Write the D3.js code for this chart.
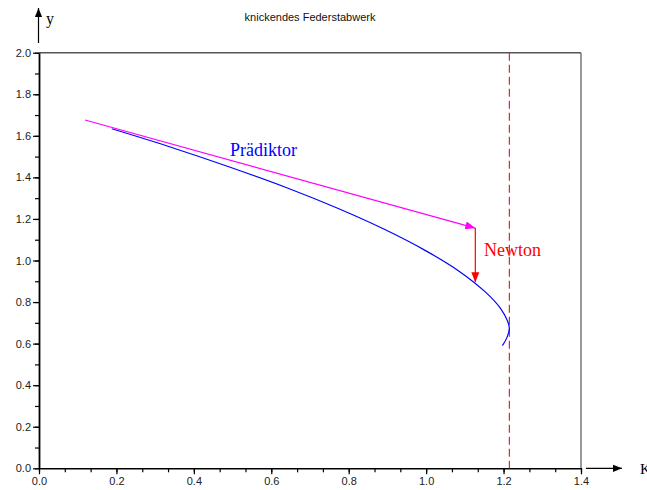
<!DOCTYPE html>
<html>
<head>
<meta charset="utf-8">
<script src="https://cdn.jsdelivr.net/npm/d3@7"></script>
<style>
  body { margin: 0; background: #fff; }
  svg { display: block; }
  .tick text { font-family: "Liberation Sans", Arial, sans-serif; font-size: 11px; fill: #222; }
</style>
</head>
<body>
<svg id="chart" width="647" height="490"></svg>
<script>
// Lösungskurve
const curveK = [0.188, 0.333, 0.492, 0.640, 0.773, 0.892, 0.996, 1.084, 1.152, 1.192, 1.210, 1.215, 1.209, 1.197];
const curveY = [1.634, 1.550, 1.450, 1.350, 1.250, 1.150, 1.050, 0.950, 0.850, 0.770, 0.710, 0.674, 0.630, 0.590];

// Prädiktor- und Newton-Schritt
const predK = [0.119, 1.127];
const predY = [1.676, 1.156];
const newtonK = [1.127, 1.127];
const newtonY = [1.156, 0.895];

// Grenzlast
const limitK = 1.215;

const xMajor = [0, 0.2, 0.4, 0.6, 0.8, 1.0, 1.2, 1.4];
const yMajor = [0, 0.2, 0.4, 0.6, 0.8, 1.0, 1.2, 1.4, 1.6, 1.8, 2.0];

const svg = d3.select("#chart");

const x = d3.scaleLinear().domain([0, 1.4]).range([39, 581]);
const y = d3.scaleLinear().domain([0, 2]).range([468.3, 52.7]);

const xMinor = d3.range(0, 22).map((i) => (i * 1.4) / 21);
const yMinor = d3.range(0, 21).map((i) => i / 10);

// Arrowheads
const defs = svg.append("defs");
function marker(id, color, w, h) {
  defs
    .append("marker")
    .attr("id", id)
    .attr("viewBox", "0 -5 10 10")
    .attr("refX", 10)
    .attr("refY", 0)
    .attr("markerUnits", "userSpaceOnUse")
    .attr("markerWidth", w)
    .attr("markerHeight", h)
    .attr("orient", "auto")
    .append("path")
    .attr("d", "M0,-4L10,0L0,4Z")
    .attr("fill", color);
}
marker("arr-black", "#000", 9, 9);
marker("arr-magenta", "#ff00ff", 10, 10);
marker("arr-red", "#ff0000", 10, 10);

// Frame (top and right)
svg.append("line")
  .attr("x1", x(0)).attr("x2", x(1.4))
  .attr("y1", y(2)).attr("y2", y(2))
  .attr("stroke", "#555").attr("stroke-width", 1.5);
svg.append("line")
  .attr("x1", x(1.4)).attr("x2", x(1.4))
  .attr("y1", y(2)).attr("y2", y(0))
  .attr("stroke", "#777").attr("stroke-width", 1.5);

// Minor ticks
svg.append("g")
  .attr("transform", `translate(0,${y(0)})`)
  .call(d3.axisBottom(x).tickValues(xMinor).tickSize(4).tickFormat(""))
  .call((g) => g.select(".domain").remove())
  .call((g) => g.selectAll("line").attr("stroke", "#000").attr("stroke-width", 1.2));
svg.append("g")
  .attr("transform", `translate(${x(0)},0)`)
  .call(d3.axisLeft(y).tickValues(yMinor).tickSize(4).tickFormat(""))
  .call((g) => g.select(".domain").remove())
  .call((g) => g.selectAll("line").attr("stroke", "#000").attr("stroke-width", 1.2));

// Major axes
svg.append("g")
  .attr("transform", `translate(0,${y(0)})`)
  .call(d3.axisBottom(x).tickValues(xMajor).tickSize(6).tickPadding(3).tickSizeOuter(0).tickFormat(d3.format(".1f")))
  .call((g) => g.select(".domain").attr("stroke", "#000").attr("stroke-width", 1.6))
  .call((g) => g.selectAll("line").attr("stroke", "#000").attr("stroke-width", 1.2));
svg.append("g")
  .attr("transform", `translate(${x(0)},0)`)
  .call(d3.axisLeft(y).tickValues(yMajor).tickSize(6).tickPadding(2).tickSizeOuter(0).tickFormat(d3.format(".1f")))
  .call((g) => g.select(".domain").attr("stroke", "#000").attr("stroke-width", 1.8))
  .call((g) => g.selectAll("line").attr("stroke", "#000").attr("stroke-width", 1.2));

// Axis arrows
svg.append("line")
  .attr("x1", x(0) - 0.5).attr("x2", x(0) - 0.5)
  .attr("y1", 43).attr("y2", 8)
  .attr("stroke", "#000").attr("stroke-width", 1.2)
  .attr("marker-end", "url(#arr-black)");
svg.append("text")
  .attr("x", 46).attr("y", 24)
  .attr("font-family", "'Liberation Serif', 'Times New Roman', serif")
  .attr("font-size", 16)
  .text("y");
svg.append("line")
  .attr("x1", 586).attr("x2", 622)
  .attr("y1", y(0)).attr("y2", y(0))
  .attr("stroke", "#000").attr("stroke-width", 1.2)
  .attr("marker-end", "url(#arr-black)");
svg.append("text")
  .attr("x", 640).attr("y", 473.5)
  .attr("font-family", "'Liberation Serif', 'Times New Roman', serif")
  .attr("font-size", 15)
  .text("K");

// Title
svg.append("text")
  .attr("x", 310).attr("y", 21)
  .attr("text-anchor", "middle")
  .attr("font-family", "'Liberation Sans', Arial, sans-serif")
  .attr("font-size", 11)
  .attr("fill", "#111")
  .text("knickendes Federstabwerk");

// Limit line
svg.append("line")
  .attr("x1", x(limitK)).attr("x2", x(limitK))
  .attr("y1", y(2)).attr("y2", y(0))
  .attr("stroke", "#e8262e").attr("stroke-width", 1.2)
  .attr("stroke-dasharray", "8,4");

// Solution curve
const curvePts = curveK.map((k, i) => [k, curveY[i]]);
svg.append("path")
  .datum(curvePts)
  .attr("fill", "none")
  .attr("stroke", "#0000ff")
  .attr("stroke-width", 1.2)
  .attr("d", d3.line().x((d) => x(d[0])).y((d) => y(d[1])).curve(d3.curveCatmullRom));

// Predictor
svg.append("line")
  .attr("x1", x(predK[0])).attr("y1", y(predY[0]))
  .attr("x2", x(predK[1])).attr("y2", y(predY[1]))
  .attr("stroke", "#ff00ff").attr("stroke-width", 1.2)
  .attr("marker-end", "url(#arr-magenta)");

// Newton correction
svg.append("line")
  .attr("x1", x(newtonK[0])).attr("y1", y(newtonY[0]))
  .attr("x2", x(newtonK[1])).attr("y2", y(newtonY[1]))
  .attr("stroke", "#ff0000").attr("stroke-width", 1.2)
  .attr("marker-end", "url(#arr-red)");

// Labels
svg.append("text")
  .attr("x", 230).attr("y", 156)
  .attr("font-family", "'Liberation Serif', 'Times New Roman', serif")
  .attr("font-size", 18)
  .attr("fill", "#0000ff")
  .text("Prädiktor");
svg.append("text")
  .attr("x", 484).attr("y", 256)
  .attr("font-family", "'Liberation Serif', 'Times New Roman', serif")
  .attr("font-size", 18)
  .attr("fill", "#ff0000")
  .text("Newton");
</script>
</body>
</html>
